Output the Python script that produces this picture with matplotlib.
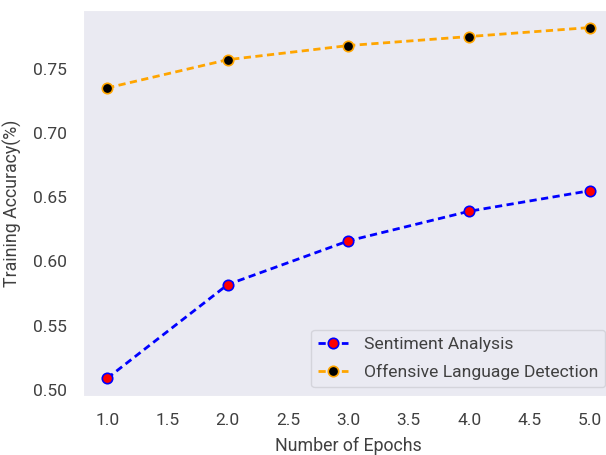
import matplotlib
matplotlib.use('Agg')
from matplotlib import pyplot as plt
import seaborn as sns

# values
epochs = [1, 2, 3, 4, 5]
sentiment_acc = [0.509, 0.582, 0.616, 0.639, 0.655]
offensive_acc = [0.735, 0.757, 0.768, 0.775, 0.782]
labels = ['Sentiment Analysis', 'Offensive Language Detection']

sns.set_style('dark')
plt.rcParams['font.family'] = ['Roboto', 'DejaVu Sans']

fig = plt.figure(figsize=(6.06, 4.55), dpi=100)
# the reference is cut off a bit on the right, so the axes run past the edge
ax = fig.add_axes([0.137, 0.130, 0.876, 0.848])

ax.plot(epochs, sentiment_acc, '--o', color='blue', lw=2, dashes=(2.6, 1.6),
        markerfacecolor='red', markeredgecolor='blue', markersize=7.5,
        markeredgewidth=1.2, label=labels[0])
ax.plot(epochs, offensive_acc, '--o', color='orange', lw=2, dashes=(2.6, 1.6),
        markerfacecolor='black', markeredgecolor='orange', markersize=7.5,
        markeredgewidth=1.2, label=labels[1])

ax.set_xlabel('Number of Epochs', fontsize=12.8, color='.25', labelpad=6)
ax.set_ylabel('Training Accuracy(%)', fontsize=12.8, color='.25', labelpad=8)
ax.tick_params(axis='x', labelsize=12.5, pad=9, colors='.25')
ax.tick_params(axis='y', labelsize=12.5, pad=8, colors='.25')

leg = ax.legend(loc='lower right', fontsize=12.6, handlelength=1.7,
                handletextpad=0.9, labelspacing=0.7, frameon=True,
                borderaxespad=0.5)
leg.get_frame().set_facecolor('#eaeaf2')
leg.get_frame().set_edgecolor('#cfcfd6')
for t in leg.get_texts():
    t.set_color('.25')

fig.savefig('out.png', dpi=100)
